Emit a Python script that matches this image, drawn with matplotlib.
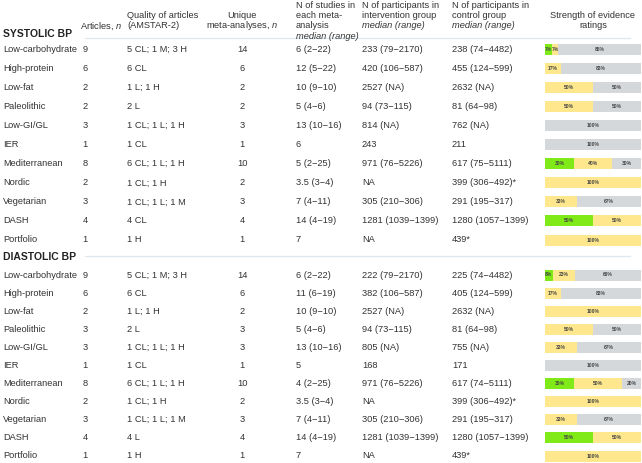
import matplotlib
matplotlib.use("Agg")
import matplotlib.pyplot as plt
import numpy as np

plt.rcParams['font.family'] = ['Liberation Sans', 'DejaVu Sans']
plt.rcParams['mathtext.fontset'] = 'custom'
plt.rcParams['mathtext.rm'] = 'Liberation Sans'
plt.rcParams['mathtext.it'] = 'Liberation Sans:italic'

# ---------------- data ----------------
diets = ['Low-carbohydrate', 'High-protein', 'Low-fat', 'Paleolithic', 'Low-GI/GL', 'IER',
         'Mediterranean', 'Nordic', 'Vegetarian', 'DASH', 'Portfolio']

sys_articles = [9, 6, 2, 2, 3, 1, 8, 2, 3, 4, 1]
sys_quality = ['5 CL; 1 M; 3 H', '6 CL', '1 L; 1 H', '2 L', '1 CL; 1 L; 1 H', '1 CL',
               '6 CL; 1 L; 1 H', '1 CL; 1 H', '1 CL; 1 L; 1 M', '4 CL', '1 H']
sys_unique = [14, 6, 2, 2, 3, 1, 10, 2, 3, 4, 1]
sys_studies = ['6 (2\u221222)', '12 (5\u221222)', '10 (9\u221210)', '5 (4\u22126)', '13 (10\u221216)', '6',
               '5 (2\u221225)', '3.5 (3\u22124)', '7 (4\u221211)', '14 (4\u221219)', '7']
sys_interv = ['233 (79\u22122170)', '420 (106\u2212587)', '2527 (NA)', '94 (73\u2212115)', '814 (NA)', '243',
              '971 (76\u22125226)', 'NA', '305 (210\u2212306)', '1281 (1039\u22121399)', 'NA']
sys_control = ['238 (74\u22124482)', '455 (124\u2212599)', '2632 (NA)', '81 (64\u221298)', '762 (NA)', '211',
               '617 (75\u22125111)', '399 (306\u2212492)*', '291 (195\u2212317)', '1280 (1057\u22121399)', '439*']
sys_high = [7, 0, 0, 0, 0, 0, 30, 0, 0, 50, 0]
sys_mod = [7, 17, 50, 50, 0, 0, 40, 100, 33, 50, 100]
sys_low = [86, 83, 50, 50, 100, 100, 30, 0, 67, 0, 0]

dia_articles = [9, 6, 2, 3, 3, 1, 8, 2, 3, 4, 1]
dia_quality = ['5 CL; 1 M; 3 H', '6 CL', '1 L; 1 H', '2 L', '1 CL; 1 L; 1 H', '1 CL',
               '6 CL; 1 L; 1 H', '1 CL; 1 H', '1 CL; 1 L; 1 M', '4 L', '1 H']
dia_unique = [14, 6, 2, 3, 3, 1, 10, 2, 3, 4, 1]
dia_studies = ['6 (2\u221222)', '11 (6\u221219)', '10 (9\u221210)', '5 (4\u22126)', '13 (10\u221216)', '5',
               '4 (2\u221225)', '3.5 (3\u22124)', '7 (4\u221211)', '14 (4\u221219)', '7']
dia_interv = ['222 (79\u22122170)', '382 (106\u2212587)', '2527 (NA)', '94 (73\u2212115)', '805 (NA)', '168',
              '971 (76\u22125226)', 'NA', '305 (210\u2212306)', '1281 (1039\u22121399)', 'NA']
dia_control = ['225 (74\u22124482)', '405 (124\u2212599)', '2632 (NA)', '81 (64\u221298)', '755 (NA)', '171',
               '617 (74\u22125111)', '399 (306\u2212492)*', '291 (195\u2212317)', '1280 (1057\u22121399)', '439*']
dia_high = [8, 0, 0, 0, 0, 0, 30, 0, 0, 50, 0]
dia_mod = [23, 17, 100, 50, 33, 0, 50, 100, 33, 50, 100]
dia_low = [69, 83, 0, 50, 67, 100, 20, 0, 67, 0, 0]

# ---------------- layout ----------------
W, H = 642, 463
fig = plt.figure(figsize=(W / 100, H / 100), dpi=100)
ax = fig.add_axes([0, 0, 1, 1])
ax.set_xlim(0, W)
ax.set_ylim(H, 0)
ax.axis('off')

bx0, bx1 = 545, 641
bax = fig.add_axes([bx0 / W, 0, (bx1 - bx0) / W, 1])
bax.set_xlim(0, 100)
bax.set_ylim(H, 0)
bax.axis('off')

TXT = '#333333'
FS = 6.7
c_high, c_mod, c_low = '#80ea18', '#fee78c', '#d5d8db'
LINE = '#dfe7ec'

# header
hl = [5, 15.5, 26, 36.5]
ax.text(80, hl[2], 'Articles, $n$', fontsize=FS, color=TXT, va='center', ha='left')
ax.text(127, hl[1], 'Quality of articles', fontsize=FS, color=TXT, va='center')
ax.text(127, hl[2], '(AMSTAR-2)', fontsize=FS, color=TXT, va='center')
ax.text(242, hl[1], 'Unique', fontsize=FS, color=TXT, va='center', ha='center')
ax.text(242, hl[2], 'meta-analyses, $n$', fontsize=FS, color=TXT, va='center', ha='center')
for i, s in enumerate(['N of studies in', 'each meta-', 'analysis']):
    ax.text(296, hl[i], s, fontsize=FS, color=TXT, va='center')
ax.text(296, hl[3], 'median (range)', fontsize=FS, color=TXT, va='center', style='italic')
for x0, l2 in [(362, 'intervention group'), (452, 'control group')]:
    ax.text(x0, hl[0], 'N of participants in', fontsize=FS, color=TXT, va='center')
    ax.text(x0, hl[1], l2, fontsize=FS, color=TXT, va='center')
    ax.text(x0, hl[2], 'median (range)', fontsize=FS, color=TXT, va='center', style='italic')
ax.text(593, hl[1], 'Strength of evidence', fontsize=FS, color=TXT, va='center', ha='center')
ax.text(593, hl[2], 'ratings', fontsize=FS, color=TXT, va='center', ha='center')


def section(title, ty, ly, y0, dy, arts, qual, uniq, stud, interv, ctrl, hi, mo, lo):
    ax.text(3, ty, title, fontsize=7.5, fontweight='bold', color='#222222', va='center')
    ax.plot([85, 630], [ly, ly], color=LINE, lw=0.9, zorder=0)
    ys = y0 + dy * np.arange(len(diets))
    for i, y in enumerate(ys):
        ax.text(3, y, diets[i], fontsize=FS, color=TXT, va='center')
        ax.text(85, y, str(arts[i]), fontsize=FS, color=TXT, va='center', ha='center')
        ax.text(127, y, qual[i], fontsize=FS, color=TXT, va='center')
        ax.text(242, y, str(uniq[i]), fontsize=FS, color=TXT, va='center', ha='center')
        ax.text(296, y, stud[i], fontsize=FS, color=TXT, va='center')
        ax.text(362, y, interv[i], fontsize=FS, color=TXT, va='center')
        ax.text(452, y, ctrl[i], fontsize=FS, color=TXT, va='center')
    hi = np.array(hi); mo = np.array(mo); lo = np.array(lo)
    left = np.zeros(len(diets))
    for vals, col in [(hi, c_high), (mo, c_mod), (lo, c_low)]:
        bax.barh(ys, vals, left=left, height=11, color=col, edgecolor='none')
        for y, v, l in zip(ys, vals, left):
            if v > 0:
                bax.text(l + v / 2, y, f'{v}%', fontsize=3.6, fontweight='bold', color='#444444',
                         ha='center', va='center')
        left = left + vals


section('SYSTOLIC BP', 34, 38, 49.5, 19.05, sys_articles, sys_quality, sys_unique, sys_studies,
        sys_interv, sys_control, sys_high, sys_mod, sys_low)
section('DIASTOLIC BP', 257, 256, 275, 18.1, dia_articles, dia_quality, dia_unique, dia_studies,
        dia_interv, dia_control, dia_high, dia_mod, dia_low)

fig.savefig('out.png', dpi=100)
